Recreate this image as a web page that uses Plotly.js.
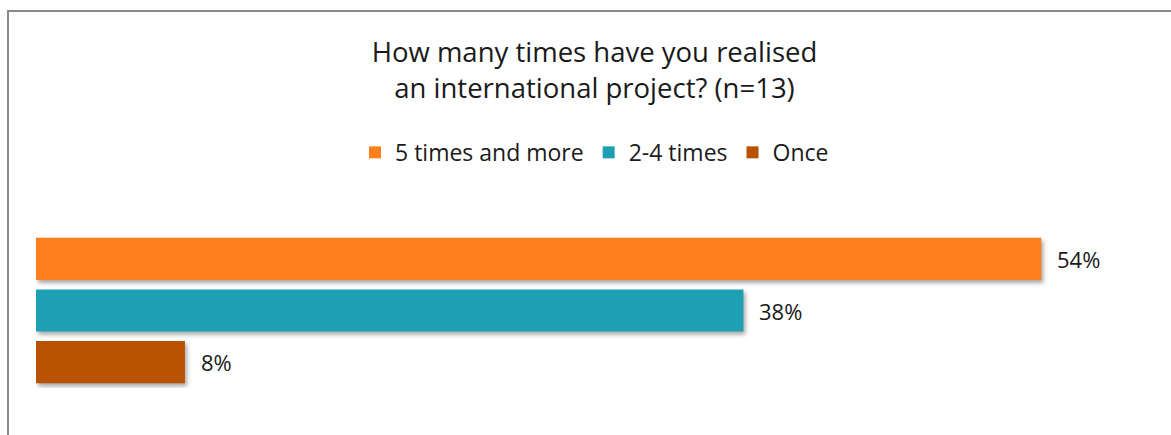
<!DOCTYPE html>
<html>
<head>
<meta charset="utf-8">
<script src="https://cdn.plot.ly/plotly-3.0.1.min.js"></script>
<style>
  html, body { margin: 0; padding: 0; background: #fff; }
  #chart { width: 1171px; height: 435px; }
  .bars path { filter: drop-shadow(2px 3px 2px rgba(0,0,0,0.35)); }
</style>
</head>
<body>
<div id="chart"></div>
<script>
const seriesNames = ['5 times and more', '2-4 times', 'Once'];
const seriesValues = [54, 38, 8];
const seriesColors = ['#FF7F1E', '#1F9FB4', '#B85200'];
const valueLabels = ['54%', '38%', '8%'];
const titleText = 'How many times have you realised<br>an international project? (n=13)';

const FONT = '"Open Sans", sans-serif';

const traces = seriesNames.map((name, i) => ({
  type: 'bar',
  orientation: 'h',
  name: name,
  y: [name],
  x: [seriesValues[i]],
  marker: { color: seriesColors[i] },
  hoverinfo: 'none'
}));

const annotations = seriesNames.map((name, i) => ({
  x: seriesValues[i],
  y: name,
  xref: 'x',
  yref: 'y',
  text: valueLabels[i],
  showarrow: false,
  xanchor: 'left',
  yanchor: 'middle',
  xshift: 14,
  font: { family: FONT, size: 22, color: '#1a1a1a' }
}));

const layout = {
  width: 1171,
  height: 435,
  margin: { l: 36, r: 18, t: 233, b: 47 },
  paper_bgcolor: '#ffffff',
  plot_bgcolor: '#ffffff',
  barmode: 'overlay',
  bargap: 0.184,
  showlegend: true,
  title: {
    text: titleText,
    font: { family: FONT, size: 27.5, color: '#1a1a1a' },
    x: 0.5,
    xref: 'paper',
    y: 1 - 62 / 435,
    yref: 'container',
    yanchor: 'top'
  },
  legend: {
    orientation: 'h',
    x: 0.5,
    xanchor: 'center',
    y: 1.52,
    yanchor: 'middle',
    font: { family: FONT, size: 23, color: '#1a1a1a' },
    traceorder: 'normal'
  },
  xaxis: {
    range: [0, 60],
    visible: false,
    fixedrange: true
  },
  yaxis: {
    categoryorder: 'array',
    categoryarray: seriesNames,
    autorange: 'reversed',
    visible: false,
    fixedrange: true
  },
  annotations: annotations,
  shapes: [{
    type: 'rect',
    xref: 'paper',
    yref: 'paper',
    x0: (8 - 36) / 1117,
    x1: 1.2,
    y0: -1,
    y1: (388 - 11) / 155,
    line: { color: '#898989', width: 2 },
    fillcolor: 'rgba(0,0,0,0)',
    layer: 'below'
  }]
};

Plotly.newPlot('chart', traces, layout, { displayModeBar: false, staticPlot: true });
</script>
</body>
</html>
